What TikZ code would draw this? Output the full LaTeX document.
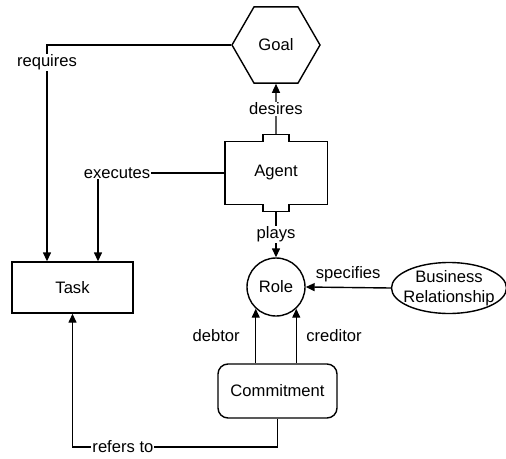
\documentclass[tikz,border=0pt]{standalone}
\usepackage{fontspec}
\setmainfont{Liberation Sans}
\usetikzlibrary{positioning, calc, arrows.meta, shapes.geometric}
\tikzset{
  > = {Triangle[length = 9pt, width = 8pt]},
  every node/.style = {font = \fontsize{16.6}{20}\selectfont},
  concept/.style = {draw, line width = 1.4pt, align = center, inner sep = 2pt},
  taskbox/.style = {concept, minimum width = 121pt, minimum height = 51pt},
  goalbox/.style = {concept, regular polygon, regular polygon sides = 6,
    minimum size = 88pt, inner sep = 0pt},
  agentbox/.style = {align = center, minimum width = 102pt, minimum height = 63pt},
  rolebox/.style = {concept, circle, minimum size = 58pt, inner sep = 0pt},
  relationbox/.style = {concept, ellipse, minimum width = 110pt,
    minimum height = 51pt, inner xsep = -5pt, inner ysep = 0pt},
  commitbox/.style = {concept, rounded corners = 10pt,
    minimum width = 119pt, minimum height = 54pt},
  link/.style = {->, line width = 1.4pt},
  tag/.style = {fill = white, inner sep = 1pt}
}

\begin{document}
\begin{tikzpicture}[x = 1pt, y = -1pt]
\useasboundingbox (0,0) rectangle (506,458);

\node [goalbox] (goal) at (276,45) {Goal};
\node [agentbox] (agent) at (276,173) {Agent};
\node [taskbox] (task) at (72.5,287.5) {Task};
\node [rolebox] (role) at (276,287) {Role};
\node [relationbox] (rel) at (449,288) {Business\\Relationship};
\node [commitbox] (commit) at (277.5,391) {Commitment};

% agent outline with tabs
\draw [line width = 1.4pt]
  (agent.north west) -- ([xshift = -13pt]agent.north) -- ++(0,-7) -- ++(26,0)
  -- ++(0,7) -- (agent.north east) -- (agent.south east)
  -- ([xshift = 13pt]agent.south) -- ++(0,7) -- ++(-26,0) -- ++(0,-7)
  -- (agent.south west) -- cycle;

\coordinate (refbend) at (commit.south |- 0,447);

\draw [link] ([yshift = 7pt]agent.north) -- node [tag] {desires} (goal.south);
\draw [link] ([yshift = -7pt]agent.south) -- node [tag] {plays} (role.north);
\draw [link] (rel.west) -- node [above = 2pt] {specifies} (role.east);

\draw [link] (goal.west) -| node [tag, pos = 0.54] {requires}
  ([xshift = -25.5pt]task.north);
\draw [link] (agent.west) -| node [tag, pos = 0.425] {executes}
  ([xshift = 25.5pt]task.north);

\draw [link] (role.227 |- commit.north) -- node [left = 12pt] {debtor} (role.227);
\draw [link] (role.313 |- commit.north) -- node [right = 6pt] {creditor} (role.313);

\draw [link] (commit.south) -- (refbend) -| node [tag, pos = 0.377] {refers to}
  (task.south);

\end{tikzpicture}
\end{document}
